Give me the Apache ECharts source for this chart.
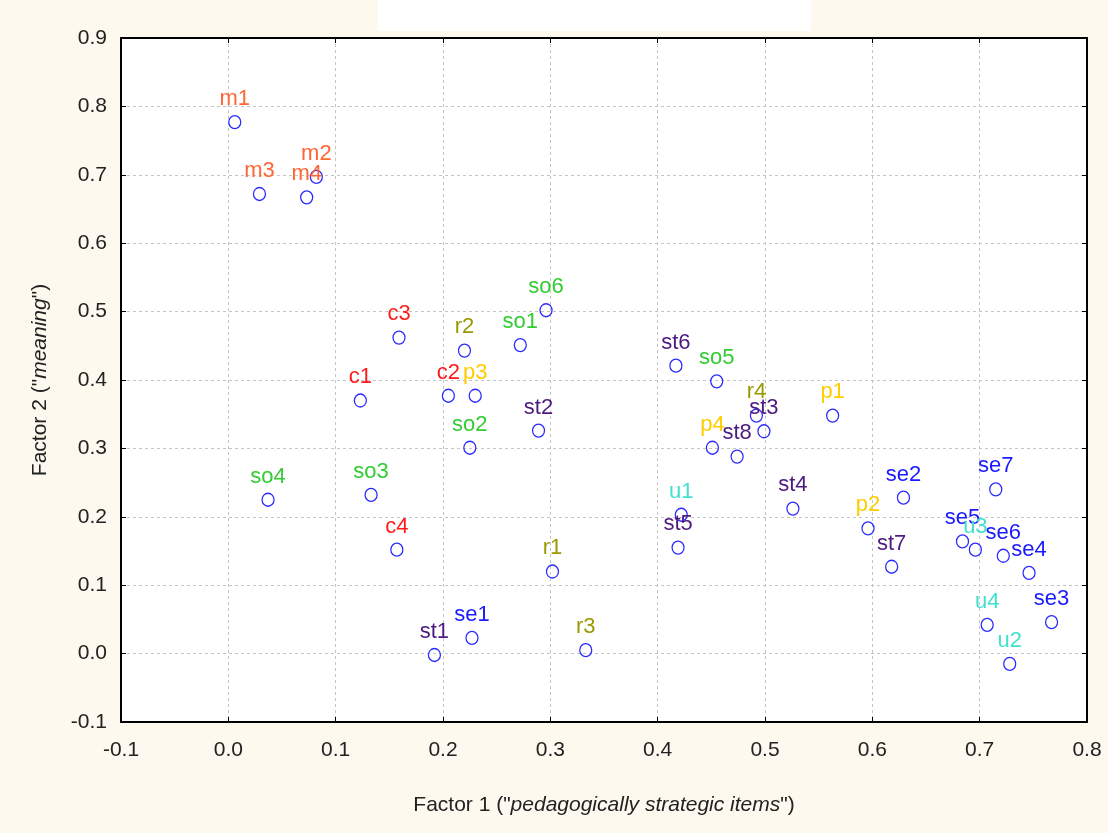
<!DOCTYPE html>
<html>
<head>
<meta charset="utf-8">
<script src="https://cdn.jsdelivr.net/npm/echarts@6/dist/echarts.min.js"></script>
<style>
  html, body { margin: 0; padding: 0; background: #fdf9ee; }
  #main { width: 1108px; height: 833px; }
</style>
</head>
<body>
<div id="main"></div>
<script>
// item names and their loadings on the two factors
var itemNames = ['m1', 'm2', 'm3', 'm4', 'c1', 'c2', 'c3', 'c4',
    'so1', 'so2', 'so3', 'so4', 'so5', 'so6', 'r1', 'r2', 'r3', 'r4',
    'p1', 'p2', 'p3', 'p4', 'st1', 'st2', 'st3', 'st4', 'st5', 'st6', 'st7', 'st8',
    'se1', 'se2', 'se3', 'se4', 'se5', 'se6', 'se7', 'u1', 'u2', 'u3', 'u4'];
var factor1 = [0.006, 0.082, 0.029, 0.073, 0.123, 0.205, 0.159, 0.157,
    0.272, 0.225, 0.133, 0.037, 0.455, 0.296, 0.302, 0.220, 0.333, 0.492,
    0.563, 0.596, 0.230, 0.451, 0.192, 0.289, 0.499, 0.526, 0.419, 0.417, 0.618, 0.474,
    0.227, 0.629, 0.767, 0.746, 0.684, 0.722, 0.715, 0.422, 0.728, 0.696, 0.707];
var factor2 = [0.777, 0.697, 0.672, 0.667, 0.370, 0.377, 0.462, 0.152,
    0.451, 0.301, 0.232, 0.225, 0.398, 0.502, 0.120, 0.443, 0.005, 0.348,
    0.348, 0.183, 0.377, 0.301, -0.002, 0.326, 0.325, 0.212, 0.155, 0.421, 0.127, 0.288,
    0.023, 0.228, 0.046, 0.118, 0.164, 0.143, 0.240, 0.203, -0.015, 0.152, 0.042];
var xTicks = [-0.1, 0.0, 0.1, 0.2, 0.3, 0.4, 0.5, 0.6, 0.7, 0.8];
var yTicks = [-0.1, 0.0, 0.1, 0.2, 0.3, 0.4, 0.5, 0.6, 0.7, 0.8, 0.9];

var groupColor = {
    m: '#ff6633',
    c: '#ff1a1a',
    so: '#33cc33',
    r: '#999900',
    p: '#ffcc00',
    st: '#4d1a80',
    se: '#1a1aff',
    u: '#40e0d0'
};

var myChart = echarts.init(document.getElementById('main'));

var pts = [];
for (var i = 0; i < itemNames.length; i++) {
    var g = itemNames[i].replace(/[0-9]/g, '');
    pts.push({
        name: itemNames[i],
        value: [factor1[i], factor2[i]],
        label: { color: groupColor[g] }
    });
}

var fnt = 'Liberation Sans';

function fmt(v) { return v.toFixed(1); }

var option = {
    backgroundColor: '#fdf9ee',
    animation: false,
    graphic: [{
        type: 'rect',
        left: 378, top: 0,
        shape: { width: 433, height: 31 },
        style: { fill: '#ffffff' }
    }],
    grid: {
        left: 121, right: 21, top: 38, bottom: 111,
        show: true, backgroundColor: '#ffffff', borderWidth: 0
    },
    xAxis: [{
        type: 'value', min: -0.1, max: 0.8, interval: 0.1,
        name: 'Factor 1 ("{i|pedagogically strategic items}")',
        nameLocation: 'middle', nameGap: 73,
        nameTextStyle: { fontFamily: fnt, fontSize: 21, color: '#222',
            rich: { i: { fontFamily: fnt, fontSize: 21, fontStyle: 'italic', color: '#222' } } },
        axisLine: { onZero: false, lineStyle: { color: '#000', width: 2 } },
        axisTick: { inside: true, length: 5, lineStyle: { color: '#000' } },
        axisLabel: { fontFamily: fnt, fontSize: 21, color: '#222', margin: 18, formatter: fmt },
        splitLine: { lineStyle: { type: [3, 3], color: '#c4c4c4' } }
    }, {
        type: 'value', min: -0.1, max: 0.8, interval: 0.1, position: 'top',
        axisLine: { onZero: false, lineStyle: { color: '#000', width: 2 } },
        axisTick: { inside: true, length: 5, lineStyle: { color: '#000' } },
        axisLabel: { show: false },
        splitLine: { show: false }
    }],
    yAxis: [{
        type: 'value', min: -0.1, max: 0.9, interval: 0.1,
        name: 'Factor 2 ("{i|meaning}")',
        nameLocation: 'middle', nameGap: 70,
        nameTextStyle: { fontFamily: fnt, fontSize: 21, color: '#222',
            rich: { i: { fontFamily: fnt, fontSize: 21, fontStyle: 'italic', color: '#222' } } },
        axisLine: { onZero: false, lineStyle: { color: '#000', width: 2 } },
        axisTick: { inside: true, length: 5, lineStyle: { color: '#000' } },
        axisLabel: { fontFamily: fnt, fontSize: 21, color: '#222', margin: 14, formatter: fmt },
        splitLine: { lineStyle: { type: [3, 3], color: '#c4c4c4' } }
    }, {
        type: 'value', min: -0.1, max: 0.9, interval: 0.1, position: 'right',
        axisLine: { onZero: false, lineStyle: { color: '#000', width: 2 } },
        axisTick: { inside: true, length: 5, lineStyle: { color: '#000' } },
        axisLabel: { show: false },
        splitLine: { show: false }
    }],
    series: [{
        type: 'scatter',
        symbol: 'circle',
        symbolSize: [12, 13],
        itemStyle: { color: 'rgba(255,255,255,0)', borderColor: '#2a2aff', borderWidth: 1.3, opacity: 1 },
        label: {
            show: true, position: 'top', distance: 5,
            fontFamily: fnt, fontSize: 22,
            formatter: function (p) { return p.name; }
        },
        labelLayout: { hideOverlap: false },
        data: pts
    }]
};

myChart.setOption(option);
</script>
</body>
</html>
